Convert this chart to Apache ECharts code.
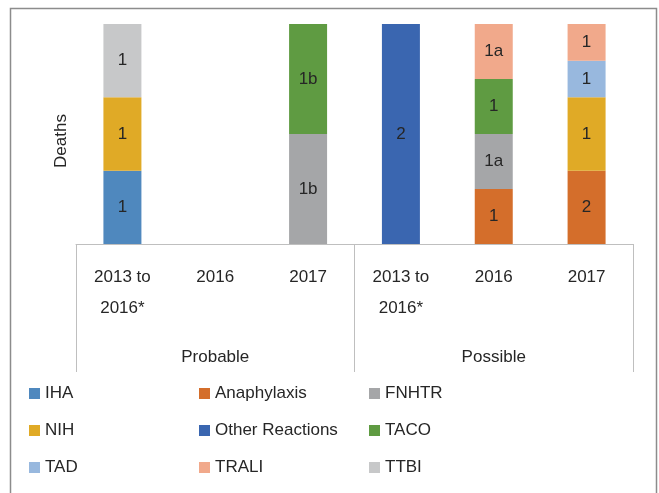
<!DOCTYPE html>
<html>
<head>
<meta charset="utf-8">
<script src="https://cdn.jsdelivr.net/npm/echarts@6/dist/echarts.min.js"></script>
<style>
  html, body { margin: 0; padding: 0; background: #fff; }
  #main { width: 659px; height: 493px; }
</style>
</head>
<body>
<div id="main"></div>
<script>
// categories (two level axis)
var years = ["2013 to\n2016*", "2016", "2017", "2013 to\n2016*", "2016", "2017"];
var groups = ["Probable", "Possible"];

// bar heights as drawn, and the text printed inside each segment
var ihaValues = [1, null, null, null, null, null];
var ihaLabels = ["1", "", "", "", "", ""];
var anaphylaxisValues = [null, null, null, null, 0.75, 1];
var anaphylaxisLabels = ["", "", "", "", "1", "2"];
var fnhtrValues = [null, null, 1.5, null, 0.75, null];
var fnhtrLabels = ["", "", "1b", "", "1a", ""];
var nihValues = [1, null, null, null, null, 1];
var nihLabels = ["1", "", "", "", "", "1"];
var otherValues = [null, null, null, 3, null, null];
var otherLabels = ["", "", "", "2", "", ""];
var tacoValues = [null, null, 1.5, null, 0.75, null];
var tacoLabels = ["", "", "1b", "", "1", ""];
var tadValues = [null, null, null, null, null, 0.5];
var tadLabels = ["", "", "", "", "", "1"];
var traliValues = [null, null, null, null, 0.75, 0.5];
var traliLabels = ["", "", "", "", "1a", "1"];
var ttbiValues = [1, null, null, null, null, null];
var ttbiLabels = ["1", "", "", "", "", ""];

var seriesNames = ["IHA", "Anaphylaxis", "FNHTR", "NIH", "Other Reactions", "TACO", "TAD", "TRALI", "TTBI"];
var seriesColors = ["#4F88BE", "#D46E2B", "#A5A6A8", "#E0AA26", "#3A66B0", "#5F9B42", "#98B8DE", "#F1A98B", "#C7C8C9"];
var seriesValues = [ihaValues, anaphylaxisValues, fnhtrValues, nihValues, otherValues, tacoValues, tadValues, traliValues, ttbiValues];
var seriesLabels = [ihaLabels, anaphylaxisLabels, fnhtrLabels, nihLabels, otherLabels, tacoLabels, tadLabels, traliLabels, ttbiLabels];

var font = "'Liberation Sans', Arial, sans-serif";
var lineColor = "#BFBFBF";

var series = seriesNames.map(function (name, i) {
  return {
    name: name,
    type: "bar",
    stack: "deaths",
    barWidth: 38,
    data: seriesValues[i],
    itemStyle: { color: seriesColors[i] },
    label: {
      show: true,
      position: "inside",
      color: "#262626",
      fontSize: 17,
      fontFamily: font,
      formatter: function (p) { return seriesLabels[i][p.dataIndex]; }
    }
  };
});

var myChart = echarts.init(document.getElementById("main"));
myChart.setOption({
  animation: false,
  textStyle: { fontFamily: font },
  graphic: [{
    type: "rect",
    shape: { x: 10.5, y: 8.5, width: 646, height: 500 },
    style: { fill: "none", stroke: "#8C8C8C", lineWidth: 1.5 },
    silent: true
  }],
  grid: { left: 76, right: 26, top: 24, bottom: 249 },
  legend: {
    left: 29,
    top: 380,
    width: 540,
    padding: 0,
    itemWidth: 11,
    itemHeight: 11,
    itemGap: 10,
    icon: "rect",
    data: seriesNames,
    textStyle: { fontSize: 17, color: "#262626", width: 144, lineHeight: 27, fontFamily: font }
  },
  xAxis: [
    {
      type: "category",
      data: years,
      position: "bottom",
      axisLine: { lineStyle: { color: lineColor } },
      axisTick: { show: false },
      axisLabel: { color: "#262626", fontSize: 17, lineHeight: 31, margin: 18, interval: 0, fontFamily: font }
    },
    {
      type: "category",
      data: groups,
      position: "bottom",
      axisLine: { show: false },
      axisTick: { show: true, length: 128, lineStyle: { color: lineColor } },
      axisLabel: { color: "#262626", fontSize: 17, margin: 105, fontFamily: font }
    }
  ],
  yAxis: {
    type: "value",
    min: 0,
    max: 3,
    name: "Deaths",
    nameLocation: "middle",
    nameGap: 6,
    nameRotate: 90,
    nameTextStyle: { color: "#262626", fontSize: 17, fontFamily: font, padding: [0, 14, 0, 0] },
    axisLine: { show: false },
    axisTick: { show: false },
    axisLabel: { show: false },
    splitLine: { show: false }
  },
  series: series
});
</script>
</body>
</html>
